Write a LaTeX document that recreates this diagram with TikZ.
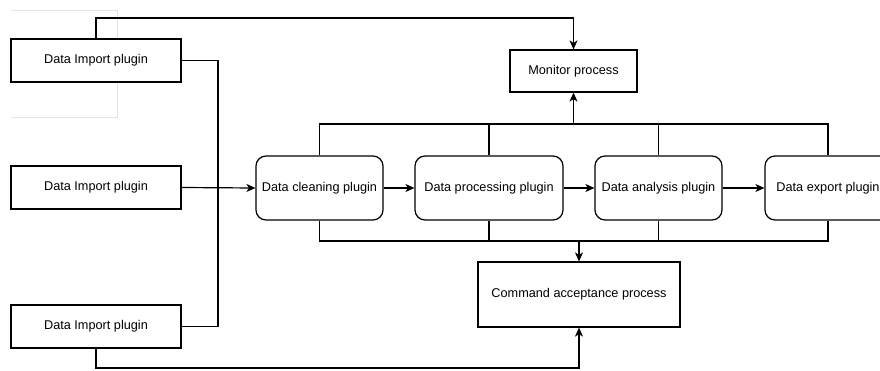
\documentclass[tikz,border=0pt]{standalone}
\usepackage{fontspec}
\setmainfont{Liberation Sans}
\usetikzlibrary{arrows.meta}
\begin{document}
\begin{tikzpicture}[x=1pt,y=-1pt,
  every node/.style={font=\fontsize{12.7}{15}\selectfont, inner sep=0pt},
  sqbox/.style={draw, line width=1.2pt, fill=white, minimum width=#1, minimum height=43},
  plug/.style={draw, line width=1.2pt, fill=white, rounded corners=10pt, minimum width=#1, minimum height=64},
  ln/.style={line width=1.2pt},
  arr/.style={line width=1.2pt, -{Stealth[length=9pt,width=8pt,inset=2.5pt]}}]
\useasboundingbox (0,0) rectangle (880,370);
\clip (0,0) rectangle (880,370);
\fill[white] (0,0) rectangle (880,370);
% faint selection frame
\draw[gray!22, line width=0.8pt] (11,10) -- (117,10) -- (117,117) -- (11,117);
% coordinates for routing
\coordinate (topy) at (0,18);
\coordinate (boty) at (0,368);
\coordinate (jx) at (218,0);
\coordinate (bt) at (0,124);
\coordinate (bb) at (0,241);
% nodes
\node[sqbox=170] (imp1) at (96,60.5) {Data Import plugin};
\node[sqbox=170] (imp2) at (96,187.5) {Data Import plugin};
\node[sqbox=170] (imp3) at (96,326.5) {Data Import plugin};
\node[sqbox=127, minimum height=42] (mon) at (573.5,71) {Monitor process};
\node[plug=127] (clean) at (319.5,188) {Data cleaning plugin};
\node[plug=148] (proc) at (489,188) {Data processing plugin};
\node[plug=127] (ana) at (658.5,188) {Data analysis plugin};
\node[plug=126] (exp) at (828,188) {Data export plugin};
\node[sqbox=202, minimum height=65] (cmd) at (579,294.5) {Command acceptance process};
% connectors
\draw[arr] (imp1.north) -- (imp1.north |- topy) -| (mon.north);
\draw[ln] (imp1.east) -- (imp1.east -| jx) -- (imp3.east -| jx) -- (imp3.east);
\draw[arr] (imp2.east) -- (clean.west);
\draw[arr] (imp3.south) -- (imp3.south |- boty) -| (cmd.south);
\draw[arr] (clean.east) -- (proc.west);
\draw[arr] (proc.east) -- (ana.west);
\draw[arr] (ana.east) -- (exp.west);
% top bus
\draw[ln] (clean.north) -- (clean.north |- bt) -- (exp.north |- bt) -- (exp.north);
\draw[ln] (proc.north) -- (proc.north |- bt);
\draw[ln] (ana.north) -- (ana.north |- bt);
\draw[arr] (mon.south |- bt) -- (mon.south);
% bottom bus
\draw[ln] (clean.south) -- (clean.south |- bb) -- (exp.south |- bb) -- (exp.south);
\draw[ln] (proc.south) -- (proc.south |- bb);
\draw[ln] (ana.south) -- (ana.south |- bb);
\draw[arr] (cmd.north |- bb) -- (cmd.north);
\end{tikzpicture}
\end{document}
